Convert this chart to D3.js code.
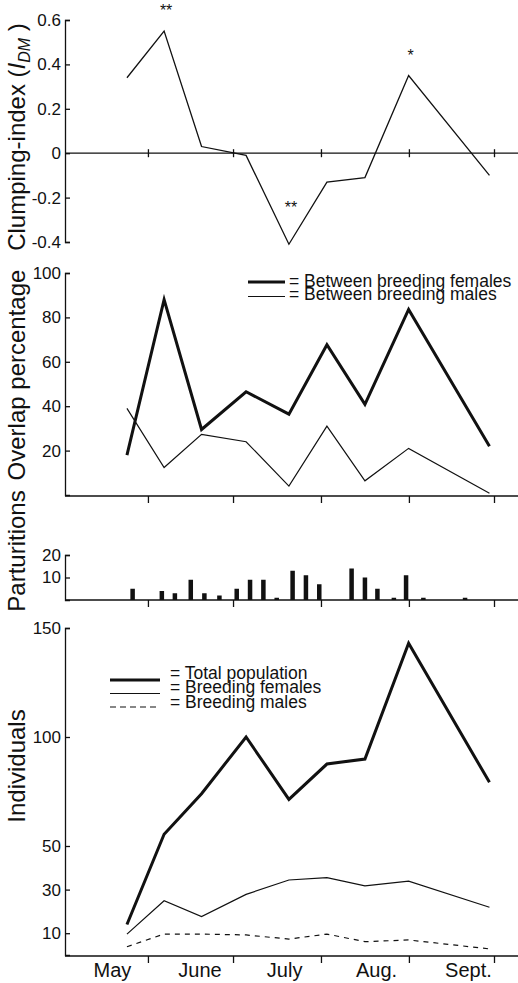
<!DOCTYPE html>
<html>
<head>
<meta charset="utf-8">
<script src="https://cdnjs.cloudflare.com/ajax/libs/d3/7.8.5/d3.min.js"></script>
<style>
body { margin: 0; background: #fff; }
svg { display: block; font-family: "Liberation Sans", Arial, Helvetica, sans-serif; }
</style>
</head>
<body>
<div id="chart-area"></div>
<script>
// sampling dates, in days after May 1
var sampleDays = [23.6, 36.7, 49.9, 65.6, 80.7, 94.1, 107.5, 122.9, 151.4];
var clumping = [0.34, 0.55, 0.03, -0.01, -0.41, -0.13, -0.11, 0.35, -0.10];
var clumpSig = ["", "**", "", "", "**", "", "", "*", ""];
var overlapFemales = [18, 88, 29.5, 46.5, 36.4, 67.7, 40.8, 83.6, 22];
var overlapMales = [39, 12.4, 27.3, 24, 4, 31, 6.4, 21, 0.8];
var birthDays = [25.6, 35.9, 40.5, 46.1, 50.9, 56.2, 62.3, 67.0, 71.7, 76.4, 82.0, 86.7, 91.4, 102.8, 107.5, 111.9, 117.7, 122.0, 128.1, 142.8];
var births = [5, 4, 3, 9, 3, 2, 5, 9, 9, 1, 13, 11, 7, 14, 10, 5, 1, 11, 1, 1];
var totalPop = [14, 55.4, 74, 100, 71.4, 87.6, 89.9, 143, 79.2];
var breedFemales = [9.6, 24.9, 17.6, 27.8, 34.4, 35.5, 31.7, 33.9, 21.9];
var breedMales = [3.8, 9.6, 9.6, 9.2, 7.3, 9.6, 6.1, 6.9, 2.8];
var monthStarts = [31, 61, 92, 123, 153];
var monthNames = ["May", "June", "July", "Aug.", "Sept."];
var monthLabelDays = [18.3, 49.2, 79, 111.4, 143.8];
var clumpTicks = [0.6, 0.4, 0.2, 0, -0.2, -0.4];
var overlapTicks = [20, 40, 60, 80, 100];
var birthTicks = [10, 20];
var popTicks = [10, 30, 50, 100, 150];

var width = 518, height = 983;
var axisX = 65;
var ink = "#111";

var svg = d3.select("#chart-area").append("svg")
	.attr("width", width)
	.attr("height", height);

var x = d3.scaleLinear().domain([0, 153]).range([60, 494]);

var y1 = d3.scaleLinear().domain([-0.4, 0.6]).range([242, 20]);
var y2 = d3.scaleLinear().domain([0, 100]).range([495, 273]);
var y3 = d3.scaleLinear().domain([0, 20]).range([600, 555]);
var y4 = d3.scaleLinear().domain([0, 150]).range([955, 628]);

function leftAxis(scale, ticks, fmt) {
	var g = svg.append("g")
		.attr("transform", "translate(" + axisX + ",0)")
		.call(d3.axisLeft(scale).tickValues(ticks)
			.tickSizeInner(-5).tickSizeOuter(-5).tickPadding(4)
			.tickFormat(fmt));
	g.attr("font-family", null).attr("font-size", 17);
	g.selectAll("path, line").attr("stroke", ink).attr("stroke-width", 1.3);
	g.selectAll("text").attr("fill", ink);
	return g;
}

function bottomAxis(yPos) {
	svg.append("line")
		.attr("x1", axisX).attr("x2", width)
		.attr("y1", yPos).attr("y2", yPos)
		.attr("stroke", ink).attr("stroke-width", 1.3);
	var g = svg.append("g")
		.attr("transform", "translate(0," + yPos + ")")
		.call(d3.axisBottom(x).tickValues(monthStarts).tickSize(7).tickFormat(""));
	g.select(".domain").remove();
	g.selectAll("line").attr("stroke", ink).attr("stroke-width", 1.3);
}

function yLabel(text, cy) {
	return svg.append("text")
		.attr("transform", "translate(25," + cy + ") rotate(-90)")
		.attr("text-anchor", "middle")
		.attr("font-size", 24)
		.attr("fill", ink)
		.text(text);
}

function seriesLine(scale) {
	return d3.line()
		.x(function(d, i) { return x(sampleDays[i]); })
		.y(function(d) { return scale(d); });
}

// ---- panel 1: clumping index ----
leftAxis(y1, clumpTicks, function(d) { return d === 0 ? "0" : d.toFixed(1); });

svg.append("line")
	.attr("x1", axisX).attr("x2", width)
	.attr("y1", y1(0)).attr("y2", y1(0))
	.attr("stroke", ink).attr("stroke-width", 1.3);
var zeroTicks = svg.append("g")
	.attr("transform", "translate(0," + (y1(0) - 4) + ")")
	.call(d3.axisBottom(x).tickValues(monthStarts).tickSize(8).tickFormat(""));
zeroTicks.select(".domain").remove();
zeroTicks.selectAll("line").attr("stroke", ink).attr("stroke-width", 1.3);

svg.append("path")
	.attr("d", seriesLine(y1)(clumping))
	.attr("fill", "none").attr("stroke", ink).attr("stroke-width", 1.3);

svg.selectAll(".sig").data(clumping).enter().append("text")
	.attr("class", "sig")
	.attr("x", function(d, i) { return x(sampleDays[i]) + 2; })
	.attr("y", function(d) { return d > 0 ? y1(d) - 15 : y1(d) - 31; })
	.attr("text-anchor", "middle")
	.attr("font-size", 16)
	.attr("fill", ink)
	.text(function(d, i) { return clumpSig[i]; });

var lab1 = svg.append("text")
	.attr("transform", "translate(25,137) rotate(-90)")
	.attr("text-anchor", "middle")
	.attr("font-size", 24)
	.attr("fill", ink);
lab1.append("tspan").text("Clumping-index (");
lab1.append("tspan").attr("font-style", "italic").text("I");
lab1.append("tspan").attr("font-style", "italic").attr("font-size", 16).attr("dy", 5).text("DM");
lab1.append("tspan").attr("dy", -5).text(" )");

// ---- panel 2: overlap ----
leftAxis(y2, overlapTicks, d3.format("d"));
bottomAxis(496);

svg.append("path")
	.attr("d", seriesLine(y2)(overlapMales))
	.attr("fill", "none").attr("stroke", ink).attr("stroke-width", 1.2);
svg.append("path")
	.attr("d", seriesLine(y2)(overlapFemales))
	.attr("fill", "none").attr("stroke", ink).attr("stroke-width", 3)
	.attr("stroke-linejoin", "miter");

yLabel("Overlap percentage", 375);

var leg2 = svg.append("g");
leg2.append("line").attr("x1", 248).attr("x2", 285).attr("y1", 282).attr("y2", 282)
	.attr("stroke", ink).attr("stroke-width", 3);
leg2.append("line").attr("x1", 248).attr("x2", 285).attr("y1", 296.5).attr("y2", 296.5)
	.attr("stroke", ink).attr("stroke-width", 1.2);
leg2.append("text").attr("x", 289).attr("y", 287).attr("font-size", 17.5).attr("fill", ink)
	.text("= Between breeding females");
leg2.append("text").attr("x", 289).attr("y", 299.5).attr("font-size", 17.5).attr("fill", ink)
	.text("= Between breeding males");

// ---- panel 3: parturitions ----
leftAxis(y3, birthTicks, d3.format("d"));
bottomAxis(600);

svg.selectAll(".bar").data(births).enter().append("rect")
	.attr("class", "bar")
	.attr("x", function(d, i) { return x(birthDays[i]) - 2.25; })
	.attr("y", function(d) { return y3(d); })
	.attr("width", 4.5)
	.attr("height", function(d) { return y3(0) - y3(d); })
	.attr("fill", ink);

yLabel("Parturitions", 551);

// ---- panel 4: individuals ----
leftAxis(y4, popTicks, d3.format("d"));
bottomAxis(956);

var monthAxis = svg.append("g")
	.attr("transform", "translate(0,956)")
	.call(d3.axisBottom(x).tickValues(monthLabelDays).tickSize(0).tickPadding(7)
		.tickFormat(function(d, i) { return monthNames[i]; }));
monthAxis.select(".domain").remove();
monthAxis.attr("font-family", null).attr("font-size", 20);
monthAxis.selectAll("text").attr("fill", ink);

svg.append("path")
	.attr("d", seriesLine(y4)(breedMales))
	.attr("fill", "none").attr("stroke", ink).attr("stroke-width", 1.2)
	.attr("stroke-dasharray", "5,5");
svg.append("path")
	.attr("d", seriesLine(y4)(breedFemales))
	.attr("fill", "none").attr("stroke", ink).attr("stroke-width", 1.2);
svg.append("path")
	.attr("d", seriesLine(y4)(totalPop))
	.attr("fill", "none").attr("stroke", ink).attr("stroke-width", 3);

yLabel("Individuals", 766);

var leg4 = svg.append("g");
leg4.append("line").attr("x1", 110).attr("x2", 160).attr("y1", 680).attr("y2", 680)
	.attr("stroke", ink).attr("stroke-width", 3);
leg4.append("line").attr("x1", 110).attr("x2", 160).attr("y1", 693.5).attr("y2", 693.5)
	.attr("stroke", ink).attr("stroke-width", 1.2);
leg4.append("line").attr("x1", 110).attr("x2", 160).attr("y1", 707).attr("y2", 707)
	.attr("stroke", ink).attr("stroke-width", 1.2).attr("stroke-dasharray", "6,4");
leg4.append("text").attr("x", 170).attr("y", 678.5).attr("font-size", 17.5).attr("fill", ink)
	.text("= Total population");
leg4.append("text").attr("x", 170).attr("y", 693).attr("font-size", 17.5).attr("fill", ink)
	.text("= Breeding females");
leg4.append("text").attr("x", 170).attr("y", 707.5).attr("font-size", 17.5).attr("fill", ink)
	.text("= Breeding males");
</script>
</body>
</html>
